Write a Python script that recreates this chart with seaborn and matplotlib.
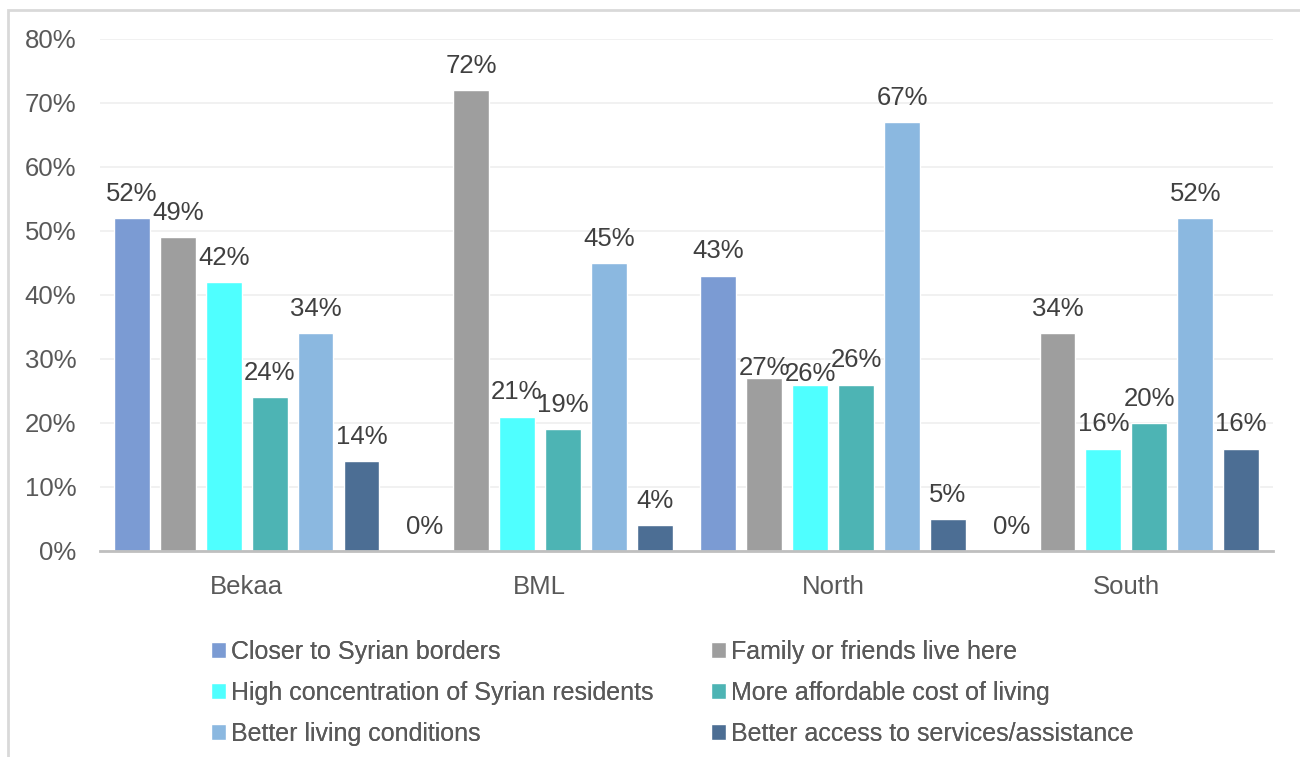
import matplotlib
matplotlib.use("Agg")
import matplotlib.pyplot as plt
from matplotlib.patches import Rectangle
from matplotlib.ticker import PercentFormatter
import seaborn as sns
import pandas as pd

regions = ["Bekaa", "BML", "North", "South"]
reasons = [
    "Closer to Syrian borders",
    "Family or friends live here",
    "High concentration of Syrian residents",
    "More affordable cost of living",
    "Better living conditions",
    "Better access to services/assistance",
]
closer_borders = [52, 0, 43, 0]
family_friends = [49, 72, 27, 34]
syrian_residents = [42, 21, 26, 16]
affordable_cost = [24, 19, 26, 20]
living_conditions = [34, 45, 67, 52]
services_access = [14, 4, 5, 16]

colors = ["#7B9BD3", "#9E9E9E", "#4FFFFF", "#4DB4B4", "#8BB8E0", "#4C6E94"]

series = [closer_borders, family_friends, syrian_residents,
          affordable_cost, living_conditions, services_access]
rows = []
for reason, vals in zip(reasons, series):
    for region, v in zip(regions, vals):
        rows.append({"region": region, "reason": reason, "share": v / 100})
df = pd.DataFrame(rows)

sns.set_theme(style="white")
plt.rcParams["font.family"] = ["Liberation Sans", "DejaVu Sans"]

fig = plt.figure(figsize=(13, 7.57), dpi=100)
ax = fig.add_axes([100 / 1300, 1 - 551 / 757, 1173 / 1300, 512 / 757])

sns.barplot(data=df, x="region", y="share", hue="reason", order=regions,
            hue_order=reasons, palette=colors, width=0.94, gap=0.22,
            saturation=1, ax=ax, legend=True)

ax.set_ylim(0, 0.8)
ax.set_xlim(-0.5, 3.5)
ax.set_yticks([i / 10 for i in range(9)])
ax.yaxis.set_major_formatter(PercentFormatter(1.0, decimals=0))
ax.grid(axis="y", color="#EFEFEF", linewidth=1.2)
ax.set_axisbelow(True)
ax.set_xlabel("")
ax.set_ylabel("")
for s in ["top", "right", "left"]:
    ax.spines[s].set_visible(False)
ax.spines["bottom"].set_color("#BFBFBF")
ax.spines["bottom"].set_linewidth(2)
ax.tick_params(axis="y", length=0, pad=17, labelsize=18.5, labelcolor="#595959")
ax.tick_params(axis="x", length=0, pad=17, labelsize=18.5, labelcolor="#595959")

label_sets = []
for cont in ax.containers:
    texts = ax.bar_label(cont,
                         labels=[f"{round(b.get_height() * 100)}%" for b in cont],
                         padding=9, fontsize=18.5, color="#404040")
    label_sets.append(texts)

# where two neighbouring labels sit at nearly the same height and collide,
# drop the left one onto its bar top
fig.canvas.draw()
renderer = fig.canvas.get_renderer()
for h in range(len(label_sets) - 1):
    for c in range(len(regions)):
        left, right = label_sets[h][c], label_sets[h + 1][c]
        bl = left.get_window_extent(renderer)
        br = right.get_window_extent(renderer)
        x_overlap = min(bl.x1, br.x1) - max(bl.x0, br.x0)
        y_overlap = min(bl.y1, br.y1) - max(bl.y0, br.y0)
        if x_overlap > -2 and y_overlap > 0.6 * bl.height:
            left.xyann = (0, -1)

handles, labels = ax.get_legend_handles_labels()
ax.get_legend().remove()

for idx, x0 in [([0, 2, 4], 211 / 1300), ([1, 3, 5], 711 / 1300)]:
    leg = fig.legend([handles[i] for i in idx], [labels[i] for i in idx],
                     loc="upper left", bbox_to_anchor=(x0, 1 - 640 / 757),
                     frameon=False, fontsize=18, handlelength=0.6,
                     handleheight=0.6, handletextpad=0.2, labelspacing=0.68,
                     borderpad=0, borderaxespad=0)
    for t in leg.get_texts():
        t.set_color("#595959")
    fig.add_artist(leg)

# outer chart frame
fig.add_artist(Rectangle((8 / 1300, -0.1), 1.2, 1 - 10 / 757 + 0.1,
                         transform=fig.transFigure, fill=False,
                         edgecolor="#D9D9D9", linewidth=2))

fig.savefig("out.png", dpi=100)
